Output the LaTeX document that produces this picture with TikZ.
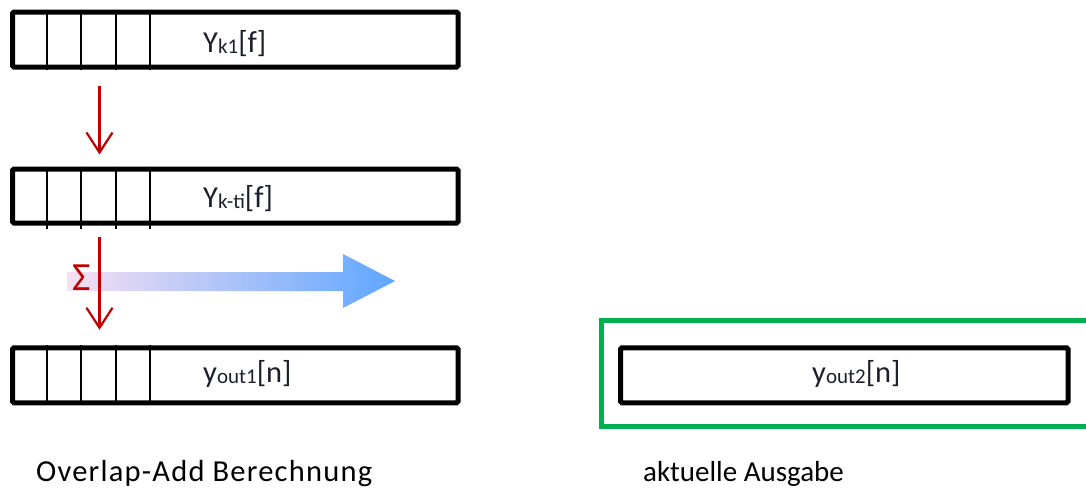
\documentclass[tikz,border=0pt]{standalone}
\usepackage{fontspec}
\setmainfont{Carlito}
\usetikzlibrary{arrows.meta}

\definecolor{sumred}{HTML}{C00000}
\definecolor{framegreen}{HTML}{00B050}
\definecolor{labelink}{HTML}{1A1F2C}
\definecolor{flowpink}{HTML}{F7DFF2}
\definecolor{flowmid}{HTML}{C4D8F3}
\definecolor{flowblue}{HTML}{5FA6FF}

% subscript in the buffer labels
\newcommand\lblsub[1]{\raisebox{-1.5pt}{\fontsize{21}{22}\selectfont #1}}

\begin{document}
\begin{tikzpicture}[x=1pt,y=-1pt,
  bufbox/.style={draw=black, line width=5pt, rounded corners=1.5pt,
    minimum width=445.5pt, minimum height=55pt, inner sep=0pt},
  cellline/.style={draw=black, line width=2.3pt},
  sumarrow/.style={draw=sumred, line width=2.2pt,
    -{Straight Barb[length=20pt,width=26pt]}},
  buflabel/.style={text=labelink, font=\fontsize{30.5}{32}\selectfont,
    inner sep=0pt, anchor=base west},
  caption/.style={text=black, font=\fontsize{29}{32}\selectfont,
    inner sep=0pt, anchor=base west}]

\useasboundingbox (0,0) rectangle (1086,491);
\clip (0,0) rectangle (1086,491);

% column positions of the cell dividers and of the summation arrows
\coordinate (c1) at (47,0);
\coordinate (c2) at (81,0);
\coordinate (c3) at (116,0);
\coordinate (c4) at (150,0);
\coordinate (ax) at (99.5,0);

% shaded flow arrow towards the output
\shade[left color=flowpink, middle color=flowmid, right color=flowblue]
  (67,272) -- (343,272) -- (343,254) -- (395,281) -- (343,308)
  -- (343,291) -- (67,291) -- cycle;
\node[text=sumred, font=\fontsize{40}{42}\selectfont, inner sep=0pt]
  (sum) at (81.5,277.5) {Σ};

% buffers
\node[bufbox] (b1) at (235.25,39.5) {};
\node[bufbox, minimum height=54pt] (b2) at (235.25,196) {};
\node[bufbox] (b3) at (235.25,375.25) {};

\foreach \c in {c1,c2,c3,c4} {
  \draw[cellline] (b1.north -| \c) -- (b1.south -| \c);
  \draw[cellline] (b2.north -| \c) -- ([yshift=-3pt]b2.south -| \c);
  \draw[cellline] (b3.north -| \c) -- (b3.south -| \c);
}

\node[buflabel] (l1) at (203,52) {Y\lblsub{k1}[f]};
\node[buflabel] (l2) at (203,207) {Y\lblsub{k-ti}[f]};
\node[buflabel] (l3) at (203,382) {y\lblsub{out1}[n]};

% summation arrows
\draw[sumarrow, shorten <=16pt, shorten >=12pt] (b1.south -| ax) -- (b2.north -| ax);
\draw[sumarrow, shorten <=11pt, shorten >=15.5pt] (b2.south -| ax) -- (b3.north -| ax);

% current output
\node[draw=framegreen, line width=5pt, minimum width=499pt,
  minimum height=106pt, inner sep=0pt] (frame) at (850.5,373) {};
\node[bufbox, minimum width=447.5pt] (b4) at (844.25,375.25) {};
\node[buflabel] (l4) at (812,382) {y\lblsub{out2}[n]};

% captions
\node[caption, font=\fontsize{30.5}{32}\selectfont\addfontfeatures{LetterSpace=4}]
  (cap1) at (36,481) {Overlap-Add Berechnung};
\node[caption] (cap2) at (643,481) {aktuelle Ausgabe};

\end{tikzpicture}
\end{document}
